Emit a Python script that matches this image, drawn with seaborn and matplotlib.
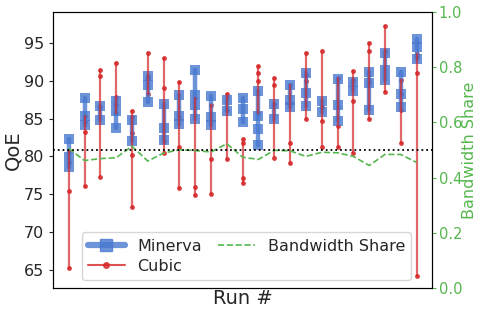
import pandas as pd
import matplotlib
matplotlib.use("Agg")
import matplotlib.pyplot as plt
from matplotlib.lines import Line2D
import seaborn as sns

# QoE samples per run
runs = list(range(1, 24))
minerva_qoe = [
    [82.3, 79.9, 78.6], [87.8, 85.3, 84.2], [86.7, 84.8], [87.3, 86.0, 83.7],
    [84.8, 82.1], [90.7, 89.4, 87.2], [87.0, 83.7, 82.2], [88.1, 85.4, 84.3],
    [91.4, 88.1, 86.8, 84.9], [88.0, 85.2, 84.1], [87.5, 86.0], [87.7, 86.3, 84.6],
    [88.6, 85.4, 83.6, 81.5], [87.0, 85.0], [89.4, 87.5, 86.5], [91.1, 88.4, 86.7],
    [87.3, 85.9], [90.2, 86.8, 84.7], [89.9, 88.6], [91.2, 89.7, 86.1],
    [93.7, 91.4, 90.1], [91.2, 88.3, 86.5], [95.6, 94.5, 92.9],
]
cubic_qoe = [
    [80.7, 79.3, 75.4, 65.2], [85.3, 84.6, 83.2, 76.1], [91.4, 90.6, 86.5, 77.3],
    [92.4, 87.9, 86.8, 85.8], [86.0, 85.2, 83.1, 80.2, 73.3], [93.7, 90.7, 90.3, 88.3],
    [93.0, 89.0, 82.1, 80.4], [89.9, 85.2, 81.3, 75.8], [87.8, 75.9, 74.9],
    [86.8, 79.7, 75.1], [88.3, 87.9, 86.1, 79.7], [82.3, 81.8, 77.2, 76.5],
    [92.0, 91.0, 90.0, 85.8], [90.4, 89.4, 87.0, 79.8], [89.4, 81.8, 79.1],
    [93.7, 90.8, 90.0, 85.0], [93.9, 86.5, 84.7, 81.3], [90.4, 86.5, 84.0, 81.2],
    [91.3, 90.1, 87.3, 80.5], [95.0, 94.0, 89.8, 85.0], [97.3, 94.0, 88.5],
    [90.1, 88.3, 86.1, 81.8], [93.6, 93.2, 91.1, 64.2],
]
bw_share = [0.506, 0.462, 0.469, 0.472, 0.514, 0.460, 0.489, 0.501, 0.498, 0.493,
            0.523, 0.474, 0.466, 0.499, 0.497, 0.477, 0.492, 0.490, 0.477, 0.444,
            0.484, 0.484, 0.455]

blue = "#4878d0"
red = "#d62728"
green = "#55b74e"


def to_long(values):
    rows = []
    for r, vals in zip(runs, values):
        for v in vals:
            rows.append({"run": r, "qoe": v})
    return pd.DataFrame(rows)


sns.set_style("ticks")
fig, ax = plt.subplots(figsize=(4.81, 3.10), dpi=100)
fig.subplots_adjust(left=0.110, right=0.899, bottom=0.071, top=0.961)

minerva_df = to_long(minerva_qoe)
cubic_df = to_long(cubic_qoe)

sns.lineplot(data=minerva_df, x="run", y="qoe", units="run",
             estimator=None, color=blue, lw=3.2, marker="s", ms=6.8,
             mec=blue, mew=0, alpha=0.8, ax=ax)
sns.lineplot(data=cubic_df, x="run", y="qoe", units="run",
             estimator=None, color=red, lw=1.6, alpha=0.7, ax=ax)
sns.scatterplot(data=cubic_df, x="run", y="qoe", color=red, s=12,
                linewidth=0, alpha=0.9, ax=ax)

ax.set_xlim(0, 24)
ax.set_ylim(62.6, 99.1)
ax.set_xticks([])
ax.set_yticks([65, 70, 75, 80, 85, 90, 95])
ax.tick_params(axis="y", labelsize=11.5, length=3)
ax.set_xlabel("Run #", fontsize=14, labelpad=1)
ax.set_ylabel("QoE", fontsize=14, labelpad=1)

ax2 = ax.twinx()
sns.lineplot(x=runs, y=bw_share, color=green, ls="--", lw=1.2, ax=ax2)
ax2.axhline(0.5, color="black", ls=":", lw=1.3)
ax2.set_ylim(0, 1)
ax2.set_yticks([0, 0.2, 0.4, 0.6, 0.8, 1.0])
ax2.tick_params(axis="y", colors=green, labelsize=10.5, length=3, pad=1.5)
ax2.set_ylabel("Bandwidth Share", color=green, fontsize=11.5)
ax2.yaxis.set_label_coords(1.0785, 0.5)
for sp in ax2.spines.values():
    sp.set_color("black")

handles = [
    Line2D([], [], color=blue, lw=4.5, marker="s", ms=8, alpha=0.8),
    Line2D([], [], color=red, lw=1.5, marker="o", ms=4, alpha=0.8),
    Line2D([], [], color=green, lw=1.2, ls="--"),
]
ax2.legend(handles, ["Minerva", "Cubic", "Bandwidth Share"], ncol=2,
           loc="lower center", bbox_to_anchor=(0.51, 0.0), fontsize=11.5,
           handlelength=2.3, columnspacing=1.0, labelspacing=0.3)

fig.savefig("out.png", dpi=100)
